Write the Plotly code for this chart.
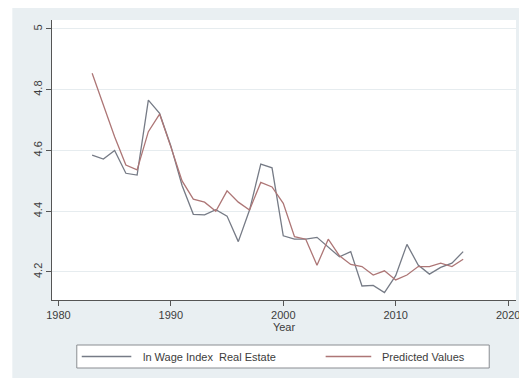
import plotly.graph_objects as go

years = list(range(1983, 2017))
ln_wage_index = [4.585, 4.572, 4.600, 4.525, 4.519, 4.766, 4.722, 4.615, 4.485,
                 4.390, 4.388, 4.405, 4.384, 4.300, 4.404, 4.555, 4.543, 4.319,
                 4.308, 4.308, 4.314, 4.283, 4.250, 4.267, 4.154, 4.156, 4.132,
                 4.188, 4.291, 4.223, 4.193, 4.215, 4.229, 4.267]
predicted = [4.854, 4.748, 4.645, 4.552, 4.536, 4.662, 4.720, 4.612, 4.500,
             4.440, 4.430, 4.400, 4.467, 4.430, 4.404, 4.495, 4.480, 4.426,
             4.316, 4.308, 4.222, 4.308, 4.253, 4.225, 4.218, 4.190, 4.204,
             4.174, 4.190, 4.218, 4.218, 4.229, 4.218, 4.242]
x_ticks = [1980, 1990, 2000, 2010, 2020]
y_ticks = [4.2, 4.4, 4.6, 4.8, 5.0]
y_tick_labels = ["4.2", "4.4", "4.6", "4.8", "5"]
series_names = ["ln Wage Index  Real Estate", "Predicted Values"]

# page offset from default body margin
OFF = 8
# figure occupies page px 8..527 x 8..378
FIG_W, FIG_H = 519, 370
# plot area in page pixels
L, R, T, B = 52, 520, 20, 300
FONT = "Liberation Sans, Arial, sans-serif"
C1 = "#767b86"
C2 = "#ad7676"
BG = "#e9eff2"


def px(x):
    return (x - L) / (R - L)


def py(y):
    return (B - y) / (B - T)


fig = go.Figure()
fig.add_trace(go.Scatter(x=years, y=ln_wage_index, mode="lines", name=series_names[0],
                         line=dict(color=C1, width=1.3), showlegend=False))
fig.add_trace(go.Scatter(x=years, y=predicted, mode="lines", name=series_names[1],
                         line=dict(color=C2, width=1.3), showlegend=False))

shapes = [
    # white strips outside the grey graph region (outer border)
    dict(type="rect", xref="paper", yref="paper", x0=px(OFF - 1), x1=px(12), y0=py(OFF + FIG_H + 1),
         y1=py(OFF - 1), fillcolor="white", line=dict(width=0)),
    dict(type="rect", xref="paper", yref="paper", x0=px(523), x1=px(OFF + FIG_W + 1),
         y0=py(OFF + FIG_H + 1), y1=py(OFF - 1), fillcolor="white", line=dict(width=0),
         layer="below"),
    # legend box
    dict(type="rect", xref="paper", yref="paper", x0=px(77), x1=px(493), y0=py(368), y1=py(345),
         fillcolor="white", line=dict(color="#8a8d92", width=1)),
    dict(type="line", xref="paper", yref="paper", x0=px(82), x1=px(132), y0=py(356.5), y1=py(356.5),
         line=dict(color=C1, width=1.5)),
    dict(type="line", xref="paper", yref="paper", x0=px(328), x1=px(374), y0=py(356.5), y1=py(356.5),
         line=dict(color=C2, width=1.5)),
]
annotations = [
    dict(xref="paper", yref="paper", x=px(142), y=py(356.5), text=series_names[0], showarrow=False,
         xanchor="left", yanchor="middle", font=dict(family=FONT, size=11, color="#3c3c3c")),
    dict(xref="paper", yref="paper", x=px(383), y=py(356.5), text=series_names[1], showarrow=False,
         xanchor="left", yanchor="middle", font=dict(family=FONT, size=11, color="#3c3c3c")),
]

fig.update_layout(
    width=FIG_W, height=FIG_H,
    margin=dict(l=L - OFF, r=OFF + FIG_W - R, t=T - OFF, b=OFF + FIG_H - B, pad=0),
    paper_bgcolor=BG, plot_bgcolor="white",
    font=dict(family=FONT, size=11, color="#3c3c3c"),
    shapes=shapes, annotations=annotations,
    xaxis=dict(range=[1979.43, 2020.7], tickvals=x_ticks, ticks="outside", ticklen=5,
               tickcolor="#555", showline=True, linecolor="#555", linewidth=1,
               showgrid=False, zeroline=False, ticklabeloverflow="allow",
               title=dict(text="Year", standoff=0, font=dict(size=11)),
               tickfont=dict(size=11)),
    yaxis=dict(range=[4.1078, 5.0296], tickvals=y_ticks, ticktext=y_tick_labels,
               ticks="outside", ticklen=5, tickcolor="#555", tickangle=-90,
               showline=True, linecolor="#555", linewidth=1, showgrid=True,
               gridcolor="#e6ecef", gridwidth=1, zeroline=False, tickfont=dict(size=11)),
)

fig.write_html("out.html")
